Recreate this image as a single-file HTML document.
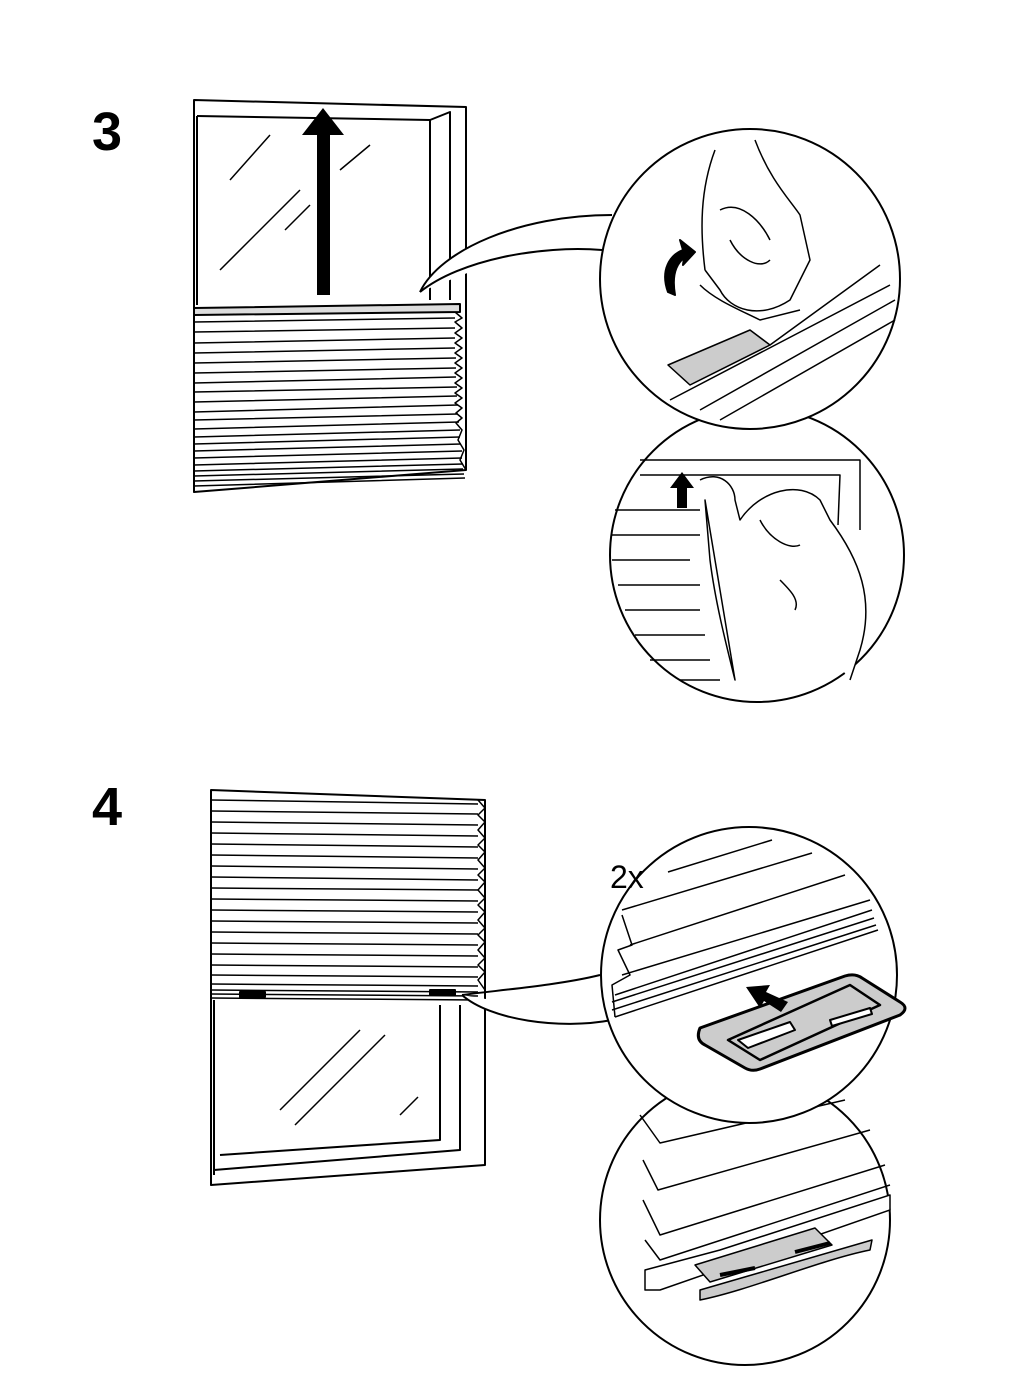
<!DOCTYPE html>
<html><head><meta charset="utf-8"><style>
html,body{margin:0;padding:0;background:#fff}
svg{display:block}
</style></head><body>
<svg width="1024" height="1381" viewBox="0 0 1024 1381" xmlns="http://www.w3.org/2000/svg" fill="none" stroke="#000" stroke-width="2" stroke-linejoin="round">
<text x="92" y="150" font-family="Liberation Sans, sans-serif" font-weight="bold" font-size="54" fill="#000" stroke="none">3</text>
<text x="92" y="825" font-family="Liberation Sans, sans-serif" font-weight="bold" font-size="54" fill="#000" stroke="none">4</text>

<!-- Window 1 -->
<path d="M194 100 L466 107 L466 470 L194 492 Z"/>
<path d="M197 116 L430 120 L430 300"/>
<path d="M430 120 L450 112 L450 300"/>
<path d="M197 116 L197 305"/>
<path d="M230 180 L270 135 M220 270 L300 190 M285 230 L310 205 M340 170 L370 145" stroke-width="1.5"/>
<polygon points="317,295 330,295 330,135 344,135 323,108 302,135 317,135" fill="#000" stroke="none"/>
<path d="M194 308 L460 304 L460 312 L194 315 Z" fill="#ddd"/>
<g stroke-width="1.5">
<path d="M194 322 L455 318 M194 332 L455 328 M194 343 L455 338 M194 353 L455 348 M194 363 L456 358 M194 373 L456 368 M194 383 L456 377 M194 392 L457 387 M194 402 L457 396 M194 412 L458 405 M194 420 L458 414 M194 429 L459 422 M194 437 L460 430 M194 444 L460 437 M194 451 L461 444 M194 458 L462 451 M194 465 L462 458 M194 471 L463 464 M194 476 L463 469 M194 481 L464 474 M194 486 L465 478"/>
<path d="M455 312 L462 318 L455 322 L462 328 L455 333 L462 338 L455 343 L462 348 L455 353 L462 358 L455 363 L462 368 L455 373 L462 378 L455 383 L462 388 L455 393 L462 398 L455 403 L462 408 L456 413 L462 418 L456 423 L462 430 L458 440 L464 450 L460 460 L466 470"/>
</g>
<path d="M420 292 C440 250 520 215 612 215" fill="#fff"/>
<path d="M420 292 C460 260 540 245 602 250" fill="none"/>

<!-- Circle 2 -->
<circle cx="757" cy="555" r="147" fill="#fff"/>
<g stroke-width="1.5">
<path d="M640 460 L860 460 L860 530 M640 475 L840 475 L838 525"/>
<path d="M615 510 L700 510 M612 535 L700 535 M612 560 L690 560 M618 585 L700 585 M625 610 L700 610 M635 635 L705 635 M650 660 L710 660 M680 680 L720 680"/>
<path d="M700 480 C720 470 735 485 735 500 L740 520 C760 490 800 480 820 500 L830 520 C860 560 875 600 860 650 L850 680 M735 680 C725 640 715 600 710 560 L705 500 Z" fill="#fff"/>
<path d="M760 520 C770 540 790 550 800 545 M780 580 C790 590 800 600 795 610"/>
</g>
<polygon points="677,508 687,508 687,488 694,488 682,472 670,488 677,488" fill="#000" stroke="none"/>

<!-- Circle 1 -->
<circle cx="750" cy="279" r="150" fill="#fff"/>
<g stroke-width="1.5">
<path d="M670 400 L890 285 M700 410 L895 300 M720 420 L895 320 M770 345 L880 265"/>
<path d="M668 365 L750 330 L770 345 L690 385 Z" fill="#ccc"/>
<path d="M705 270 C700 230 700 190 715 150 M755 140 C770 180 790 200 800 215 L810 260 L790 300 C760 320 730 310 720 290 L705 270"/>
<path d="M720 210 C740 200 760 220 770 240 M730 240 C740 260 760 270 770 260 M700 285 C715 300 740 310 760 320 L800 310"/>
</g>
<path d="M668 292 C660 270 670 255 683 250 L680 240 L695 252 L683 265 L684 258 C675 265 672 278 675 295 Z" fill="#000"/>

<!-- Window 2 -->
<path d="M211 790 L485 800 L485 1165 L211 1185 Z"/>
<path d="M214 1000 L214 1175 M214 1170 L460 1150 L460 1005 M440 1005 L440 1140 L220 1155"/>
<path d="M280 1110 L360 1030 M295 1125 L385 1035 M400 1115 L418 1097" stroke-width="1.5"/>
<g stroke-width="1.5">
<path d="M211 800 L478 804 M211 811 L478 814 M211 822 L478 825 M211 833 L478 836 M211 844 L478 847 M211 855 L478 858 M211 866 L478 869 M211 877 L478 880 M211 888 L478 890 M211 899 L478 901 M211 910 L478 912 M211 921 L478 923 M211 932 L478 934 M211 943 L478 945 M211 954 L478 956 M211 965 L478 967 M211 975 L478 977 M211 984 L478 986 M211 990 L478 992 M211 994 L478 996 M211 998 L478 1000"/>
<path d="M478 800 L485 808 L478 815 L485 822 L478 830 L485 838 L478 845 L485 852 L478 860 L485 868 L478 875 L485 882 L478 890 L485 898 L478 905 L485 912 L478 920 L485 928 L478 935 L485 942 L478 950 L485 958 L478 965 L485 972 L478 980 L485 990"/>
</g>
<rect x="240" y="992" width="25" height="5" fill="#000"/>
<rect x="430" y="990" width="25" height="5" fill="#000"/>
<path d="M462 995 C490 1020 560 1030 612 1020" fill="#fff"/>
<path d="M462 995 C500 990 560 985 600 975"/>

<!-- Circle 4 -->
<circle cx="745" cy="1220" r="145" fill="#fff"/>
<g stroke-width="1.5">
<path d="M640 1115 L660 1143 L845 1100 M643 1160 L658 1190 L870 1130 M643 1200 L660 1235 L885 1165 M645 1240 L660 1260 L890 1185"/>
<path d="M645 1270 L720 1250 L890 1195 L890 1210 L660 1290 L645 1290 Z" fill="#fff"/>
<path d="M695 1265 L815 1228 L832 1245 L710 1282 Z" fill="#ccc"/>
<path d="M700 1300 C750 1290 820 1260 870 1250 L872 1240 L700 1290 Z" fill="#ccc"/>
<path d="M720 1275 L755 1268 M795 1252 L830 1243" stroke-width="4"/>
</g>

<!-- Circle 3 -->
<circle cx="749" cy="975" r="148" fill="#fff"/>
<text x="610" y="888" font-family="Liberation Sans, sans-serif" font-size="32" fill="#000" stroke="none">2x</text>
<g stroke-width="1.5">
<path d="M668 872 L772 840 M622 910 L812 853 M630 945 L845 875 M622 975 L870 900 M615 995 L872 910 M612 1002 L874 918 M612 1010 L876 925 M615 1017 L878 930"/>
<path d="M622 915 L632 945 L618 950 L630 975 L612 985 L615 1017"/>
</g>
<path d="M700 1028 Q695 1040 705 1045 L745 1068 Q752 1072 760 1069 L900 1015 Q910 1008 900 1002 L862 978 Q855 973 845 976 Z" fill="#ccc" stroke-width="3"/>
<path d="M728 1040 L850 985 L880 1005 L760 1060 Z" fill="none" stroke-width="2.5"/>
<path d="M738 1040 L790 1022 L795 1030 L748 1048 Z" fill="#fff" stroke-width="2"/>
<path d="M830 1020 L870 1008 L872 1014 L832 1026 Z" fill="#fff" stroke-width="2"/>
<polygon points="788,1002 781,1012 764,1001 760,1008 746,987 770,985 766,992" fill="#000" stroke="none"/>
</svg>
</body></html>
